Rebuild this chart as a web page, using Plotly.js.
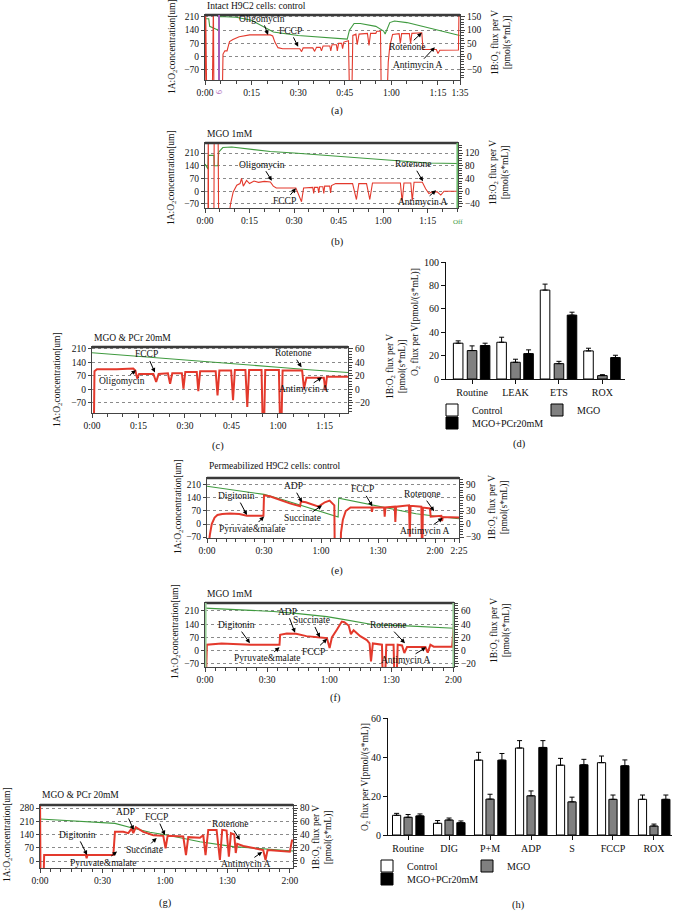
<!DOCTYPE html>
<html><head><meta charset="utf-8">
<script src="https://cdn.plot.ly/plotly-3.0.1.min.js"></script>
<style>html,body{margin:0;padding:0;background:#fff;}#chart{width:675px;height:917px;}</style>
</head><body><div id="chart"></div>
<script>
// ---------- DATA (time in minutes, O2 concentration in uM, O2 flux in pmol/(s*mL)) ----------
// (a) Intact H9C2 cells: control
const aGrnT = [0, 1.2, 1.5, 4.3, 4.6, 10, 15, 20, 22, 30, 38, 45.8, 46.5, 48, 50, 55, 57.5, 58, 59.5, 61, 65, 70, 75, 80, 82];
const aGrnV = [200, 200, 160, 140, 212, 208, 192, 150, 130, 112, 102, 93, 140, 175, 175, 160, 135, 120, 180, 188, 180, 160, 140, 118, 112];
const aRedT = [0, 0.2, 0.4, 0.6, 2.3, 2.5, 2.7, 2.9, 5.5, 5.8, 6.4, 7.1, 7.5, 7.9, 9, 11, 14.4, 18, 21, 21.8, 22.5, 23.5, 25, 28, 30.5, 31.1, 31.6, 34.7, 35.3, 35.9, 37.1, 37.5, 38, 40.2, 40.5, 40.9, 42.3, 42.6, 43, 44, 44.3, 44.7, 46.2, 46.6, 47.2, 47.6, 48.6, 49.0, 49.6, 52.3, 52.8, 53.3, 55.0, 55.3, 56.5, 56.8, 58.5, 59.0, 59.5, 60.4, 62.5, 62.9, 63.3, 65.8, 66.2, 66.6, 69.8, 70.2, 74.5, 75.0, 75.6, 81.6, 81.8];
const aRedV = [-200, 200, -200, -200, -200, 200, 200, -200, -200, 10, 22, 22, 40, 57, 65, 75, 82, 83, 82, 78, 55, 34, 30, 30, 30, 19, 33, 33, 20, 35, 35, 22, 40, 40, 22, 45, 45, 22, 50, 50, 30, 55, 60, -200, -200, 80, 85, 45, 85, 88, 42, 88, 88, 96, 96, -200, -200, -20, 40, 84, 87, 50, 87, 87, 50, 88, 90, 27, 27, 12, 24, 25, 200];
// (b) MGO 1mM
const bGrnT = [0, 1.0, 1.1, 3.0, 3.1, 4.4, 4.6, 6, 9, 15, 22, 30, 45, 60, 70, 75, 85.2];
const bGrnV = [150, 122, 197, 197, 140, 140, 215, 240, 243, 232, 218, 210, 192, 175, 160, 155, 152];
const bRedT = [0, 1.0, 1.1, 1.2, 3.0, 3.1, 4.4, 4.5, 4.6, 7.8, 8.6, 9.5, 10.7, 11.8, 12.3, 12.9, 14, 15, 16.5, 18, 20, 22, 23, 24, 30.6, 32.5, 33.2, 36.3, 36.6, 36.9, 38, 38.3, 38.6, 39.7, 40, 40.3, 42, 42.3, 42.6, 44, 49.7, 51, 51.8, 54.4, 55.5, 56.4, 65.8, 66.4, 67, 69.3, 69.8, 70.4, 73.2, 74.3, 75.4, 76.5, 78.2, 79.4, 80.5, 85, 85.3];
const bRedV = [-100, -100, 200, -100, -100, 200, 200, -100, -100, -100, -40, -2, 19, 24, 40, 16, 34, 24, 32, 28, 31, 29, 16, 10, 10, -33, 10, 12, -7, 12, 12, -5, 14, 14, -7, 16, 16, -5, 18, 24, 24, -26, 24, 24, -26, 26, 26, -33, 26, 26, -30, 28, 28, 8, -7, -2, -2, -12, 0, 0, 200];
// (c) MGO & PCr 20mM
const cGrnT = [0, 10, 20, 30, 40, 50, 60, 70, 82.6];
const cGrnV = [190, 178, 165, 153, 142, 128, 115, 102, 88];
const cRedT = [0, 0.3, 0.5, 0.8, 1.6, 8, 13.3, 14.0, 14.6, 15.2, 19.8, 20.7, 21.5, 24.5, 25.2, 25.9, 29.0, 29.5, 30.1, 33.8, 34.3, 34.9, 39.9, 40.5, 41.1, 44.9, 45.5, 46.1, 49.5, 50.1, 50.7, 54.7, 55.3, 55.9, 60.3, 60.9, 61.5, 67.8, 68.4, 69.2, 74.8, 75.3, 75.8, 82.6];
const cRedV = [-100, -100, -100, 27, 30, 30, 31, 28, 16, 23, 23, 11, 23, 24, 8.5, 24, 24, 1, 26, 26, -2.5, 27, 27, -9, 28, 28, -16, 29, 29, -26, 29, 29, -100, 29, 29, -100, 28, 28, 1, 17.5, 17.5, -1.5, 19, 19];
// (d) intact-cell respiration states
const dCats = ['Routine', 'LEAK', 'ETS', 'ROX'];
const dControl = [30.6, 31.4, 76, 24];
const dControlErr = [2, 4.3, 5.1, 2.3];
const dMGO = [24.3, 14.3, 13.1, 2.9];
const dMGOErr = [4, 2.6, 2, 0.8];
const dPCr = [28.6, 21.7, 54.6, 18.3];
const dPCrErr = [2, 3.2, 2.5, 2];
// (e) Permeabilized H9C2 cells: control
const eGrnT = [0, 15, 30, 40, 49, 58, 67.5, 69.0, 69.3, 80, 90, 100, 110, 122.8, 132.6];
const eGrnV = [203, 181, 159, 130, 101, 70, 40, 38, 139, 118, 98, 75, 55, 39, 28];
const eRedT = [0, 0.6, 1.5, 2.5, 4, 5.5, 8, 12, 17, 19, 21, 29.7, 30.0, 33, 38, 44, 49, 49.4, 52, 55, 58.8, 60, 62, 64.5, 67, 67.4, 69.9, 70.5, 71.5, 73, 75.5, 86.5, 86.8, 87.2, 93.2, 93.5, 93.9, 98.8, 99.1, 99.5, 106.3, 106.7, 107.1, 112.8, 113.2, 113.6, 117.3, 117.7, 123.3, 123.7, 124.1, 132.6];
const eRedV = [-150, -60, -25, 0, 15, 21, 23, 24, 23, 21, 19, 19, 66, 64, 56, 47, 41, 52, 50, 45, 40, 44, 50, 54, 43, -150, -150, -20, 10, 30, 38, 38, 28, 38, 38, 17, 38, 40, 5, 40, 43, -29, 42, 40, -100, 38, 36, 17, 19, 7, 16, 15];
// (f) MGO 1mM (permeabilized)
const fGrnT = [0, 15, 33, 45, 58.9, 66, 73.4, 81.5, 97.6, 110, 120.3];
const fGrnV = [225, 218, 207, 196, 180, 167, 154, 137, 131, 125, 119];
const fRedT = [0, 0.2, 0.6, 0.9, 8, 15, 22, 30, 36, 36.3, 39.5, 44, 49, 55.6, 58.9, 60.2, 61.3, 63.7, 66.1, 67.3, 69.4, 70.5, 71.8, 75, 78.2, 79.5, 80.2, 81.1, 85.5, 86.3, 87.6, 91.1, 92, 93.1, 95.2, 96.3, 97.6, 106.5, 107.6, 108.9, 110.5, 119.4, 120.2];
const fRedV = [-100, -100, -100, 9, 11, 10, 9, 9, 9, 24, 26, 25.5, 22, 20, 19, 4, 20, 31.6, 44, 43, 38, 25, 31, 22, 16, 11, -16, 11, 9, -100, 9, 9, -100, 9, 8, -3.5, 5.5, 5.5, -3, 9, 6, 6, 38];
// (g) MGO & PCr 20mM (permeabilized)
const gGrnT = [0, 36, 44.8, 52.8, 60.8, 76.8, 92.8, 108.8, 121.5];
const gGrnV = [222, 199, 173, 152, 137, 102, 76, 62, 53];
const gRedT = [0, 0.1, 0.3, 1.5, 2.0, 3.2, 20, 22.0, 22.4, 22.8, 35.2, 36.0, 40, 42.4, 44, 44.8, 46, 49.6, 54.4, 59.2, 60.3, 61.3, 68.8, 70.1, 71.2, 76.8, 78.4, 79.5, 80.8, 84.8, 86.4, 87.5, 89.6, 90.7, 91.7, 93.3, 94, 94.7, 97.6, 107.2, 108.3, 109.3, 120, 121, 121.5];
const gRedV = [100, -50, -50, -50, 9, 9, 9, 9, 4, 9, 9, 44, 44, 42, 49, 42, 51, 44, 39, 38, 19, 38, 37, 9, 36, 35, 39, 9, 47, 47, 1.5, 47, 46, 6.5, 42, 40, 12, 26, 22.6, 16.6, 1.5, 16.6, 14, 31, 31];
// (h) permeabilized-cell respiration states
const hCats = ['Routine', 'DIG', 'P+M', 'ADP', 'S', 'FCCP', 'ROX'];
const hControl = [10.1, 6.0, 38.4, 44.6, 35.8, 37.1, 18.3];
const hControlErr = [1, 1.4, 4, 3.8, 3.5, 3.4, 2.2];
const hMGO = [9.1, 7.7, 18.4, 20.1, 17.0, 18.3, 4.6];
const hMGOErr = [1.4, 1, 2.5, 2.5, 2.4, 2.2, 1];
const hPCr = [9.8, 6.3, 38.4, 44.9, 36.0, 35.5, 18.3];
const hPCrErr = [1, 0.9, 3.4, 3.5, 2.8, 3, 2.2];

// ---------- STYLE / LAYOUT ----------
const FONT = 'Liberation Serif, "Times New Roman", serif';
const W = 675, H = 917;
const RED = '#e3392c', GREEN = '#3f9a3f', AX = '#444';
const px = p => p / W, py = p => 1 - p / H;
const tf = {family: FONT, size: 9.5, color: '#111'};

function timeX(x0, x1, anchor, range, tickvals, ticktext) {
  return {domain: [px(x0), px(x1)], anchor, range, tickmode: 'array', tickvals, ticktext,
    showline: true, linecolor: AX, linewidth: 1, mirror: true, ticks: 'outside', ticklen: 4, tickcolor: AX,
    minor: {tickmode: 'linear', tick0: 0, dtick: 5, ticks: 'outside', ticklen: 2.5, tickcolor: AX, showgrid: false},
    showgrid: false, zeroline: false, tickfont: tf, fixedrange: true};
}
function leftY(t, b, anchor, range, tickvals) {
  return {domain: [py(b), py(t)], anchor, range, tickmode: 'array', tickvals,
    showline: true, linecolor: AX, linewidth: 1, ticks: 'outside', ticklen: 3, tickcolor: AX,
    showgrid: true, gridcolor: '#8a8a8a', griddash: 'dot', gridwidth: 1, zeroline: false, tickfont: tf, fixedrange: true};
}
function rightY(over, anchor, range, tickvals, step) {
  return {overlaying: over, side: 'right', anchor, range, tickmode: 'array', tickvals,
    showline: true, linecolor: AX, linewidth: 1, ticks: 'outside', ticklen: 4, tickcolor: AX,
    minor: {tickmode: 'linear', tick0: 0, dtick: step / 5, ticks: 'outside', ticklen: 2.5, tickcolor: AX, showgrid: false},
    showgrid: false, zeroline: false, tickfont: tf, fixedrange: true};
}
const mins = v => v.map(m => Math.floor(m / 60) + ':' + String(Math.round(m % 60)).padStart(2, '0'));

const layout = {
  width: W, height: H, margin: {l: 0, r: 0, t: 0, b: 0}, paper_bgcolor: '#fff', plot_bgcolor: '#fff',
  font: {family: FONT, size: 9.5, color: '#111'}, showlegend: true, barmode: 'overlay',
  // (a)
  xaxis: timeX(205, 460, 'y', [0, 82.1], [0, 15, 30, 45, 60, 75, 82.1], ['0:00', '0:15', '0:30', '0:45', '1:00', '1:15', '1:35']),
  yaxis: leftY(15, 80, 'x', [-123, 220], [-70, 0, 70, 140, 210]),
  yaxis2: rightY('y', 'x', [-87.9, 157.1], [-50, 0, 50, 100, 150], 50),
  // (b)
  xaxis2: timeX(205, 458, 'y3', [0, 85.2], [0, 15, 30, 45, 60, 75], mins([0, 15, 30, 45, 60, 75])),
  yaxis3: leftY(143, 208, 'x2', [-92, 265], [-70, 0, 70, 140, 210]),
  yaxis4: rightY('y3', 'x2', [-52.6, 151.4], [-40, 0, 40, 80, 120], 40),
  // (c)
  xaxis3: timeX(92, 348, 'y5', [0, 82.6], [0, 15, 30, 45, 60, 75], mins([0, 15, 30, 45, 60, 75])),
  yaxis5: leftY(347, 413, 'x3', [-122, 220], [-70, 0, 70, 140, 210]),
  yaxis6: rightY('y5', 'x3', [-34.9, 62.9], [-20, 0, 20, 40, 60], 20),
  // (d)
  xaxis4: {domain: [px(446), px(625)], anchor: 'y7', type: 'category', range: [-0.6, 3.52], showline: true, linecolor: '#111',
    ticks: 'outside', ticklen: 4, tickcolor: '#111', showgrid: false, zeroline: false, tickfont: {family: FONT, size: 10, color: '#111'}, fixedrange: true},
  yaxis7: {domain: [py(379), py(262)], anchor: 'x4', range: [0, 100], dtick: 20, showline: true, linecolor: '#111',
    ticks: 'outside', ticklen: 4, tickcolor: '#111', showgrid: false, zeroline: false, tickfont: {family: FONT, size: 10, color: '#111'}, fixedrange: true},
  // (e)
  xaxis5: timeX(207, 459, 'y8', [0, 132.6], [0, 30, 60, 90, 120, 132.6], ['0:00', '0:30', '1:00', '1:30', '2:00', '2:25']),
  yaxis8: leftY(478, 538, 'x5', [-75, 247], [-70, 0, 70, 140, 210]),
  yaxis9: rightY('y8', 'x5', [-32.1, 105.9], [-30, 0, 30, 60, 90], 30),
  // (f)
  xaxis6: timeX(205, 454, 'y10', [0, 120.3], [0, 30, 60, 90, 120], mins([0, 30, 60, 90, 120])),
  yaxis10: leftY(603, 667, 'x6', [-86, 252], [-70, 0, 70, 140, 210]),
  yaxis11: rightY('y10', 'x6', [-24.6, 72], [-20, 0, 20, 40, 60], 20),
  // (g)
  xaxis7: timeX(40, 293, 'y12', [0, 121.5], [0, 30, 60, 90, 120], mins([0, 30, 60, 90, 120])),
  yaxis12: leftY(805, 868, 'x7', [-37, 296], [0, 70, 140, 210, 280]),
  yaxis13: rightY('y12', 'x7', [-10.6, 84.6], [0, 20, 40, 60, 80], 20),
  // (h)
  xaxis8: {domain: [px(388), px(672)], anchor: 'y14', type: 'category', range: [-0.49, 6.44], showline: true, linecolor: '#111',
    ticks: 'outside', ticklen: 4, tickcolor: '#111', showgrid: false, zeroline: false, tickfont: {family: FONT, size: 10, color: '#111'}, fixedrange: true},
  yaxis14: {domain: [py(835), py(718)], anchor: 'x8', range: [0, 60], dtick: 20, showline: true, linecolor: '#111',
    ticks: 'outside', ticklen: 4, tickcolor: '#111', showgrid: false, zeroline: false, tickfont: {family: FONT, size: 10, color: '#111'}, fixedrange: true},
};

// legends (two rows each for (d) and (h))
const legFont = {family: FONT, size: 10, color: '#111'};
function leg(x, y, ew) {
  const l = {x: px(x), y: py(y), xanchor: 'left', yanchor: 'middle', orientation: 'h',
    font: legFont, bgcolor: 'rgba(0,0,0,0)', borderwidth: 0, itemwidth: 30, tracegroupgap: 0};
  if (ew) { l.entrywidth = ew; l.entrywidthmode = 'pixels'; }
  return l;
}
layout.legend = leg(432, 410, 60);
layout.legend2 = leg(432, 423, 0);
layout.legend3 = leg(367, 866, 55);
layout.legend4 = leg(367, 879, 0);

// ---------- TRACES ----------
const traces = [];
function run(x, y, xa, ya, color, width) {
  traces.push({type: 'scatter', mode: 'lines', x, y, xaxis: xa, yaxis: ya, showlegend: false,
    line: {color, width, shape: 'linear'}, hoverinfo: 'skip'});
}
run(aGrnT, aGrnV, 'x', 'y', GREEN, 1.1);   run(aRedT, aRedV, 'x', 'y2', RED, 1.1);
run(bGrnT, bGrnV, 'x2', 'y3', GREEN, 1.1); run(bRedT, bRedV, 'x2', 'y4', RED, 1.1);
run(cGrnT, cGrnV, 'x3', 'y5', GREEN, 1.1); run(cRedT, cRedV, 'x3', 'y6', RED, 2);
run(eGrnT, eGrnV, 'x5', 'y8', GREEN, 1.1); run(eRedT, eRedV, 'x5', 'y9', RED, 2);
run(fGrnT, fGrnV, 'x6', 'y10', GREEN, 1.1); run(fRedT, fRedV, 'x6', 'y11', RED, 2);
run(gGrnT, gGrnV, 'x7', 'y12', GREEN, 1.1); run(gRedT, gRedV, 'x7', 'y13', RED, 2);

function bars(cats, vals, errs, name, color, xa, ya, off, wid, lg) {
  traces.push({type: 'bar', x: cats, y: vals, name, xaxis: xa, yaxis: ya, legend: lg, offset: off, width: wid,
    marker: {color, line: {color: '#000', width: 1}},
    error_y: {type: 'data', symmetric: false, array: errs, arrayminus: errs.map(() => 0), color: '#000', thickness: 1, width: 2.5},
    hoverinfo: 'skip'});
}
bars(dCats, dControl, dControlErr, 'Control', '#ffffff', 'x4', 'y7', -0.43, 0.22, 'legend');
bars(dCats, dMGO, dMGOErr, 'MGO', '#808080', 'x4', 'y7', -0.11, 0.22, 'legend');
bars(dCats, dPCr, dPCrErr, 'MGO+PCr20mM', '#000000', 'x4', 'y7', 0.19, 0.22, 'legend2');
bars(hCats, hControl, hControlErr, 'Control', '#ffffff', 'x8', 'y14', -0.38, 0.2, 'legend3');
bars(hCats, hMGO, hMGOErr, 'MGO', '#808080', 'x8', 'y14', -0.1, 0.2, 'legend3');
bars(hCats, hPCr, hPCrErr, 'MGO+PCr20mM', '#000000', 'x8', 'y14', 0.19, 0.2, 'legend4');

// ---------- SHAPES (frames / event markers) ----------
const shapes = [];
[['x', 'y'], ['x2', 'y3'], ['x3', 'y5'], ['x5', 'y8'], ['x6', 'y10'], ['x7', 'y12']].forEach(([xa, ya]) => {
  shapes.push({type: 'line', xref: xa + ' domain', yref: ya + ' domain', x0: 0, x1: 1, y0: 1, y1: 1, line: {color: '#3a3a3a', width: 2.5}});
});
shapes.push({type: 'line', xref: 'x', yref: 'y domain', x0: 4.5, x1: 4.5, y0: 0, y1: 1, line: {color: '#a860b8', width: 2}});
shapes.push({type: 'line', xref: 'x2', yref: 'y3 domain', x0: 85.0, x1: 85.0, y0: 0, y1: 1, line: {color: '#6cbf6c', width: 2}});
shapes.push({type: 'line', xref: 'x6', yref: 'y10 domain', x0: 0.3, x1: 0.3, y0: 0, y1: 1, line: {color: '#9ad09a', width: 2}});
shapes.push({type: 'line', xref: 'x6', yref: 'y10 domain', x0: 120, x1: 120, y0: 0, y1: 1, line: {color: '#9ad09a', width: 2}});
layout.shapes = shapes;

// ---------- ANNOTATIONS ----------
const ann = [];
function arrow(xr, yr, x, y, text, ax, ay) {
  ann.push({xref: xr, yref: yr, x, y, text, showarrow: true, arrowhead: 2, arrowsize: 0.9, arrowwidth: 1, arrowcolor: '#000',
    ax, ay, standoff: 0, startstandoff: 0, font: tf});
}
function txt(x, y, text, opts) {
  ann.push(Object.assign({xref: 'paper', yref: 'paper', x: px(x), y: py(y), text, showarrow: false, font: tf,
    xanchor: 'center', yanchor: 'middle'}, opts || {}));
}
// (a)
arrow('x', 'y', 20.3, 115, 'Oligomycin', -6, -16);
arrow('x', 'y', 30, 52, 'FCCP', -8, -16);
arrow('x', 'y', 69.8, 126, 'Rotenone', -15, 14);
arrow('x', 'y', 74, 50, 'Antimycin A', -17, 18);
// (b)
arrow('x2', 'y3', 22.5, 58, 'Oligomycin', -10, -16);
arrow('x2', 'y3', 30.6, 16, 'FCCP', -11, 13);
arrow('x2', 'y3', 73.4, 55, 'Rotenone', -10, -17);
arrow('x2', 'y3', 77.8, 5, 'Antimycin A', -14, 12);
// (c)
arrow('x3', 'y5', 20.3, 88, 'FCCP', -8, -18);
arrow('x3', 'y5', 14.2, 100, 'Oligomycin', -14, 11);
arrow('x3', 'y5', 67.6, 115, 'Rotenone', -9, -14);
arrow('x3', 'y5', 74.2, 63, 'Antimycin A', -18, 12);
// (e)
arrow('x5', 'y8', 21, 48, 'Digitonin', -10, -19);
arrow('x5', 'y8', 30, 40, 'Pyruvate&malate', -12, 12);
arrow('x5', 'y8', 50, 117, 'ADP', -9, -16);
arrow('x5', 'y8', 60.5, 100, 'Succinate', -19, 13);
arrow('x5', 'y8', 87, 95, 'FCCP', -10, -17);
arrow('x5', 'y8', 119.5, 69, 'Rotenone', -12, -17);
arrow('x5', 'y8', 124, 32, 'Antimycin A', -18, 13);
// (f)
arrow('x6', 'y10', 21.7, 40, 'Digitonin', -13, -18);
arrow('x6', 'y10', 36, 18, 'Pyruvate&malate', -13, 11);
arrow('x6', 'y10', 43.5, 95, 'ADP', -8, -21);
arrow('x6', 'y10', 55.5, 70, 'Succinate', -8, -17);
arrow('x6', 'y10', 59, 63, 'FCCP', -14, 13);
arrow('x6', 'y10', 96.6, 40, 'Rotenone', -17, -18);
arrow('x6', 'y10', 106.8, 18, 'Antimycin A', -21, 13);
// (g)
arrow('x7', 'y12', 22.6, 32, 'Digitonin', -10, -20);
arrow('x7', 'y12', 37, 50, 'Pyruvate&malate', -14, 11);
arrow('x7', 'y12', 45, 164, 'ADP', -8, -18);
arrow('x7', 'y12', 56, 122, 'Succinate', -12, 12);
arrow('x7', 'y12', 60, 137, 'FCCP', -8, -18);
arrow('x7', 'y12', 96, 111, 'Rotenone', -10, -16);
arrow('x7', 'y12', 106.7, 48, 'Antimycin A', -17, 12);

// panel titles
txt(205, 6, 'Intact H9C2 cells: control', {xanchor: 'left'});
txt(205, 134, 'MGO 1mM', {xanchor: 'left'});
txt(92, 338, 'MGO &amp; PCr 20mM', {xanchor: 'left'});
txt(207, 466, 'Permeabilized H9C2 cells: control', {xanchor: 'left'});
txt(205, 594, 'MGO 1mM', {xanchor: 'left'});
txt(40, 795, 'MGO &amp; PCr 20mM', {xanchor: 'left'});
// left axis titles
const lt = '1A:O<sub>2</sub>concentration[um]';
txt(172, 47, lt, {textangle: -90});
txt(172, 178, lt, {textangle: -90});
txt(57, 380, lt, {textangle: -90});
txt(178, 507, lt, {textangle: -90});
txt(175, 632, lt, {textangle: -90});
txt(7, 835, lt, {textangle: -90});
// right axis titles
const rt = '1B:O<sub>2</sub> flux per V<br>[pmol(s*mL)]';
txt(502, 43, rt, {textangle: -90});
txt(499, 173, rt, {textangle: -90});
txt(397, 367, rt, {textangle: -90});
txt(498, 508, rt, {textangle: -90});
txt(500, 631, rt, {textangle: -90});
txt(322, 838, rt, {textangle: -90});
// bar chart y titles
const bt = 'O<sub>2</sub> flux per V[pmol/(s*mL)]';
txt(416, 322, bt, {textangle: -90});
txt(365, 777, bt, {textangle: -90});
// event labels
txt(219, 92, '9', {textangle: 90, font: {family: FONT, size: 8, color: '#a860b8'}});
txt(458, 222, 'Off', {font: {family: FONT, size: 7, color: GREEN}});
// panel captions
const cf = {family: FONT, size: 10.5, color: '#111'};
txt(337, 111, '(a)', {font: cf});
txt(337, 242, '(b)', {font: cf});
txt(218, 446, '(c)', {font: cf});
txt(519, 444, '(d)', {font: cf});
txt(337, 571, '(e)', {font: cf});
txt(335, 698, '(f)', {font: cf});
txt(165, 903, '(g)', {font: cf});
txt(518, 905, '(h)', {font: cf});
layout.annotations = ann;

Plotly.newPlot('chart', traces, layout, {staticPlot: true, displayModeBar: false});
</script>
</body></html>
